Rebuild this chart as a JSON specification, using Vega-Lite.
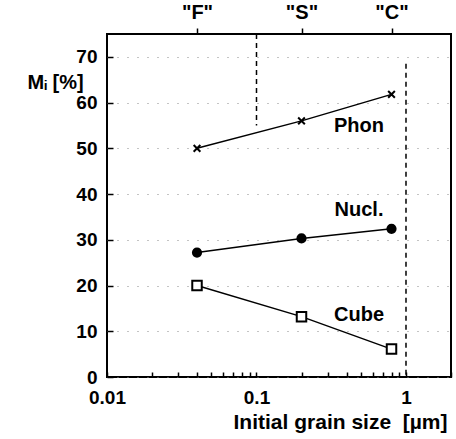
{
  "$schema": "https://vega.github.io/schema/vega-lite/v6.json",
  "width": 344,
  "height": 343,
  "autosize": {"type": "none"},
  "padding": {"left": 107, "top": 34, "right": 5, "bottom": 62},
  "background": "white",
  "config": {
    "view": {"stroke": "black", "strokeWidth": 2},
    "axis": {"labelFont": "Liberation Sans", "labelFontWeight": "bold", "labelFontSize": 19, "labelColor": "black", "titleFont": "Liberation Sans", "titleFontWeight": "bold", "titleFontSize": 20, "titleColor": "black", "tickColor": "black", "domain": false}
  },
  "datasets": {
    "pts": [
      {"series": "Phon", "size": 0.04, "M": 50},
      {"series": "Phon", "size": 0.2, "M": 56},
      {"series": "Phon", "size": 0.8, "M": 61.8},
      {"series": "Nucl", "size": 0.04, "M": 27.2},
      {"series": "Nucl", "size": 0.2, "M": 30.3},
      {"series": "Nucl", "size": 0.8, "M": 32.4},
      {"series": "Cube", "size": 0.04, "M": 20},
      {"series": "Cube", "size": 0.2, "M": 13.2},
      {"series": "Cube", "size": 0.8, "M": 6.1}
    ],
    "vlines": [
      {"x": 0.1, "y1": 75, "y2": 55},
      {"x": 1, "y1": 68.5, "y2": 0}
    ],
    "labels": [
      {"text": "Phon", "x": 0.485, "y": 54.8},
      {"text": "Nucl.", "x": 0.485, "y": 36.6},
      {"text": "Cube", "x": 0.485, "y": 13.6}
    ]
  },
  "resolve": {"axis": {"x": "independent"}},
  "layer": [
    {
      "data": {"name": "vlines"},
      "mark": {"type": "rule", "color": "black", "strokeWidth": 1.5, "strokeDash": [5, 4]},
      "encoding": {
        "x": {"field": "x", "type": "quantitative", "scale": {"type": "log", "domain": [0.01, 2], "nice": false}, "axis": null},
        "y": {"field": "y1", "type": "quantitative", "scale": {"domain": [0, 75], "nice": false},
          "axis": {"title": "Mᵢ [%]", "values": [0, 10, 20, 30, 40, 50, 60, 70],
            "tickSize": -6, "tickWidth": 1.5, "labelPadding": 16,
            "grid": true, "gridColor": "#888888", "gridDash": [1, 9], "gridWidth": 1,
            "titleAngle": 0, "titleX": -80, "titleY": 48, "titleAlign": "left", "titleBaseline": "middle"}},
        "y2": {"field": "y2"}
      }
    },
    {
      "data": {"name": "pts"},
      "mark": {"type": "line", "color": "black", "strokeWidth": 1.5},
      "encoding": {
        "x": {"field": "size", "type": "quantitative", "scale": {"type": "log", "domain": [0.01, 2], "nice": false},
          "axis": {"orient": "bottom", "title": "Initial grain size\u00a0\u00a0[µm]",
            "values": [0.01, 0.02, 0.03, 0.04, 0.05, 0.06, 0.07, 0.08, 0.09, 0.1, 0.2, 0.3, 0.4, 0.5, 0.6, 0.7, 0.8, 0.9, 1, 2],
            "labelExpr": "datum.value == 0.01 ? '0.01' : datum.value == 0.1 ? '0.1' : datum.value == 1 ? '1' : ''",
            "tickSize": -5, "tickWidth": 1.5, "labelPadding": 16, "grid": false, "labelFlush": false, "labelOverlap": false,
            "titleFontSize": 21, "titleAnchor": "end", "titleAlign": "right", "titleX": 340, "titleY": 51, "titleBaseline": "alphabetic"}},
        "y": {"field": "M", "type": "quantitative"},
        "detail": {"field": "series"}
      }
    },
    {
      "data": {"name": "pts"},
      "mark": {"type": "point", "stroke": "black", "strokeWidth": 2, "opacity": 1},
      "encoding": {
        "x": {"field": "size", "type": "quantitative",
          "axis": {"orient": "top", "title": null, "values": [0.04, 0.2, 0.8],
            "labelExpr": "datum.value == 0.04 ? '\"F\"' : datum.value == 0.2 ? '\"S\"' : '\"C\"'",
            "labelFontSize": 20, "tickSize": 6, "tickWidth": 1.5, "labelPadding": 6, "grid": false, "labelFlush": false}},
        "y": {"field": "M", "type": "quantitative"},
        "shape": {"field": "series", "type": "nominal", "scale": {"domain": ["Phon", "Nucl", "Cube"], "range": ["M-1,-1L1,1M-1,1L1,-1", "circle", "square"]}, "legend": null},
        "fill": {"field": "series", "type": "nominal", "scale": {"domain": ["Phon", "Nucl", "Cube"], "range": ["transparent", "black", "white"]}, "legend": null},
        "size": {"field": "series", "type": "nominal", "scale": {"domain": ["Phon", "Nucl", "Cube"], "range": [45, 90, 60]}, "legend": null}
      }
    },
    {
      "data": {"name": "labels"},
      "mark": {"type": "text", "font": "Liberation Sans", "fontWeight": "bold", "fontSize": 20, "color": "black", "align": "center", "baseline": "middle"},
      "encoding": {
        "x": {"field": "x", "type": "quantitative", "axis": null},
        "y": {"field": "y", "type": "quantitative"},
        "text": {"field": "text"}
      }
    }
  ]
}
